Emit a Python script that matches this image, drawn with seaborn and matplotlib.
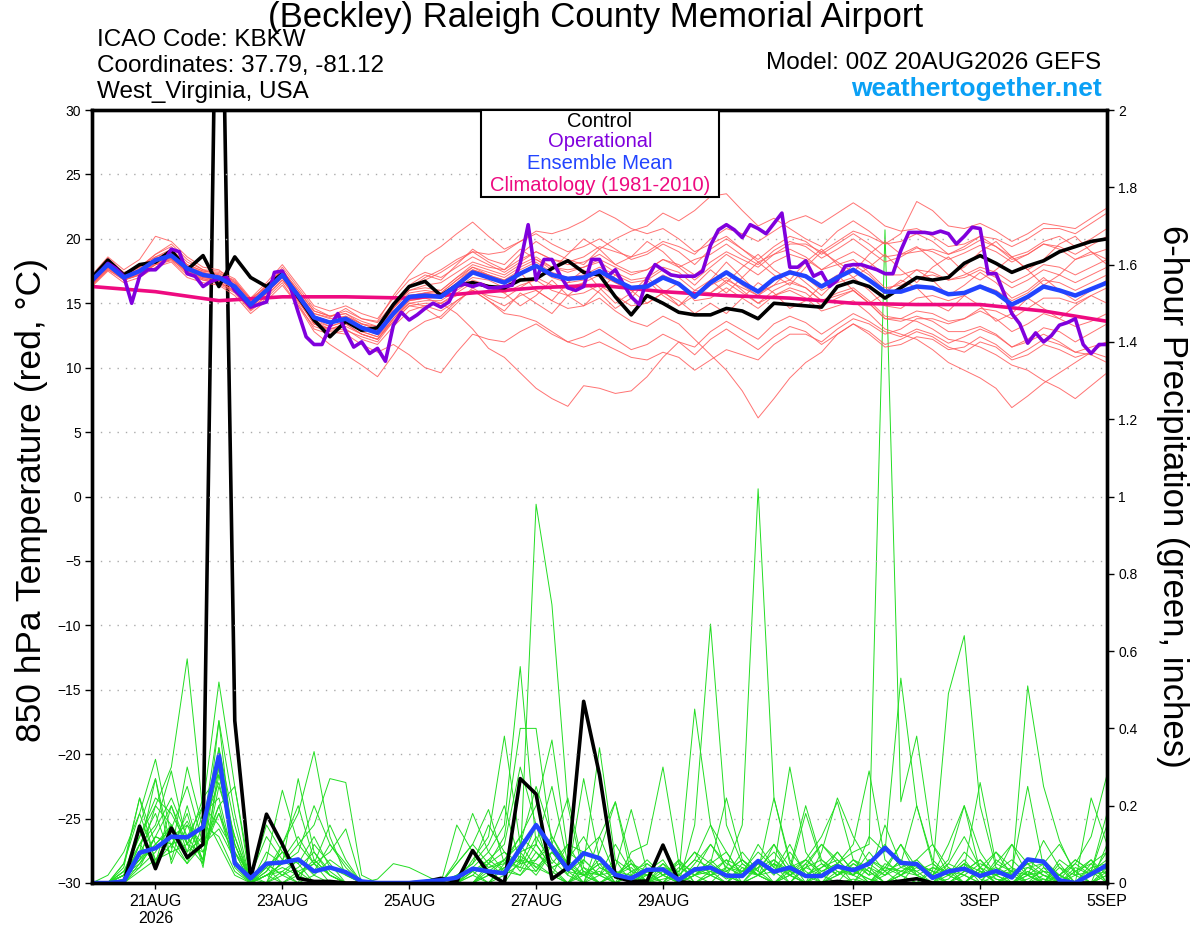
import numpy as np
import pandas as pd
import matplotlib
matplotlib.use("Agg")
import matplotlib.pyplot as plt
import seaborn as sns
from matplotlib.patches import Rectangle

# forecast hours: GEFS is 6-hourly, the operational run 3-hourly, climatology daily
hours = np.arange(0, 385, 6)
op_hours = np.arange(0, 385, 3)
clim_hours = np.arange(0, 385, 24)

tick_hours = [24, 72, 120, 168, 216, 288, 336, 384]
tick_labels = ["21AUG\n2026", "23AUG", "25AUG", "27AUG", "29AUG", "1SEP", "3SEP", "5SEP"]

# 850 hPa temperature (C)
ctrl_temp = [17.0, 18.35, 17.2, 18.0, 18.2, 19.1, 17.6, 18.7, 16.3, 18.6, 17.0, 16.3, 17.3,
             15.5, 13.7, 12.4, 13.6, 12.9, 13.1, 14.9, 16.3, 16.7, 15.6, 16.4, 16.6, 16.3,
             16.2, 16.8, 16.9, 17.7, 18.3, 17.4, 17.2, 15.5, 14.1, 15.6, 15.0, 14.3, 14.1,
             14.1, 14.6, 14.4, 13.8, 15.0, 14.9, 14.8, 14.7, 16.3, 16.7, 16.3, 15.4, 16.2,
             17.0, 16.8, 17.0, 18.1, 18.7, 18.1, 17.4, 17.9, 18.3, 19.0, 19.4, 19.8, 20.0]

mean_temp = [16.8, 18.0, 17.0, 17.5, 18.35, 18.7, 17.7, 17.2, 17.0, 16.3, 14.9, 16.0, 17.2,
             15.6, 13.9, 13.5, 13.8, 13.1, 12.7, 14.2, 15.5, 15.6, 15.5, 16.4, 17.4, 17.0,
             16.6, 17.3, 17.9, 17.2, 16.9, 17.0, 17.5, 16.8, 16.2, 16.3, 17.0, 16.5, 15.5,
             16.6, 17.4, 16.6, 15.9, 16.9, 17.4, 17.1, 16.3, 17.0, 17.6, 16.8, 15.9, 15.9,
             16.3, 16.2, 15.7, 15.8, 16.3, 15.8, 14.9, 15.5, 16.3, 16.0, 15.6, 16.1, 16.6]

oper_temp = [16.7, 17.4, 18.1, 17.7, 17.1, 15.0, 17.1, 17.6, 17.6, 18.2, 19.2, 19.0, 17.3,
             17.1, 16.3, 16.7, 16.9, 17.0, 16.0, 15.4, 14.7, 14.9, 15.1, 17.4, 17.5, 16.3,
             14.3, 12.4, 11.8, 11.8, 13.2, 14.2, 12.8, 11.6, 12.0, 11.1, 11.5, 10.5, 13.3,
             14.3, 13.7, 14.1, 14.6, 15.0, 14.7, 15.1, 16.3, 16.5, 16.3, 16.5, 16.2, 16.2,
             16.3, 16.4, 18.1, 21.1, 16.8, 18.4, 18.4, 17.2, 16.2, 16.0, 16.3, 18.4, 18.4,
             17.1, 17.6, 16.5, 15.5, 14.9, 16.9, 18.0, 17.6, 17.2, 17.1, 17.1, 17.1, 17.5,
             19.5, 20.7, 21.1, 20.7, 20.1, 21.1, 20.8, 20.4, 21.2, 22.0, 17.8, 17.8, 18.3,
             17.1, 17.4, 16.3, 16.8, 17.9, 18.0, 18.0, 17.8, 17.6, 17.3, 17.3, 19.1, 20.5,
             20.5, 20.5, 20.4, 20.6, 20.4, 19.6, 20.2, 20.9, 20.8, 17.3, 17.3, 15.8, 14.2,
             13.4, 11.9, 12.7, 12.0, 12.5, 13.3, 13.5, 13.8, 11.8, 11.1, 11.8, 11.8]

clim_temp = [16.3, 15.9, 15.2, 15.5, 15.5, 15.4, 15.8, 16.2, 16.4, 15.9, 15.6, 15.4,
             15.0, 14.9, 14.9, 14.4, 13.6]

# ensemble members, temperature
t01 = [16.5, 17.8, 17.2, 17.9, 18.6, 19.2, 18.0, 17.5, 17.3, 16.8, 15.2, 16.4, 17.6,
       15.8, 14.2, 13.9, 14.6, 13.8, 13.5, 15.0, 16.4, 17.2, 16.8, 18.0, 19.2, 18.4,
       18.0, 19.2, 18.4, 17.6, 18.8, 20.0, 19.2, 18.0, 18.6, 19.8, 19.0, 17.8, 18.4,
       18.8, 19.6, 18.7, 18.0, 19.1, 19.8, 19.4, 18.5, 19.2, 20.0, 19.1, 18.2, 18.6,
       19.3, 19.0, 18.4, 18.9, 19.5, 19.0, 18.2, 18.8, 19.6, 19.4, 18.8, 19.5, 20.2]
t02 = [16.9, 18.2, 16.8, 17.2, 18.0, 18.4, 17.5, 16.9, 16.7, 15.9, 14.5, 15.6, 16.8,
       15.2, 13.4, 12.9, 13.0, 12.2, 11.8, 13.2, 14.4, 14.8, 15.0, 14.2, 13.0, 11.5,
       10.8, 9.6, 8.4, 7.6, 7.0, 8.6, 8.4, 8.0, 8.2, 9.3, 10.8, 12.0, 11.6,
       12.8, 13.6, 12.9, 12.2, 13.4, 14.0, 13.5, 12.6, 13.4, 14.2, 13.6, 12.8, 12.4,
       13.0, 12.6, 11.9, 12.4, 13.0, 12.5, 11.6, 12.2, 13.1, 12.8, 12.0, 12.7, 13.4]
t03 = [16.4, 17.6, 16.9, 17.3, 18.1, 18.5, 17.3, 16.9, 16.6, 16.0, 14.6, 15.8, 17.0,
       15.0, 13.0, 12.6, 12.9, 12.4, 12.0, 13.6, 14.8, 14.6, 13.8, 15.0, 16.2, 15.4,
       14.8, 15.6, 16.0, 15.2, 14.6, 14.8, 15.4, 14.4, 13.6, 13.2, 14.0, 13.4, 12.2,
       11.0, 9.8, 8.2, 6.1, 7.6, 9.2, 10.4, 11.2, 12.6, 13.4, 12.8, 11.8, 12.2,
       12.8, 12.4, 11.6, 11.2, 12.0, 11.6, 10.6, 11.0, 11.8, 11.4, 10.8, 11.2, 10.8]
t04 = [17.0, 18.5, 17.4, 17.8, 18.8, 19.6, 18.4, 17.6, 17.5, 16.9, 15.4, 16.2, 17.8,
       16.2, 14.6, 14.0, 14.2, 13.4, 13.2, 14.8, 16.2, 17.0, 17.6, 18.4, 19.0, 18.2,
       17.6, 18.8, 19.8, 19.0, 18.4, 18.0, 19.2, 20.0, 20.6, 21.0, 22.0, 21.4, 22.2,
       23.3, 23.5, 22.2, 21.0, 21.6, 20.8, 20.0, 19.4, 20.6, 21.4, 20.6, 19.6, 19.8,
       20.4, 19.8, 18.8, 19.2, 19.9, 19.4, 18.6, 19.0, 19.8, 20.2, 19.4, 20.0, 20.8]
t05 = [16.6, 17.9, 16.9, 17.4, 18.2, 18.6, 17.6, 17.0, 16.8, 16.1, 14.7, 15.8, 17.0,
       15.4, 13.6, 13.0, 13.4, 12.6, 12.2, 13.8, 15.0, 15.2, 15.2, 16.0, 16.8, 16.4,
       15.8, 16.4, 16.8, 16.0, 15.6, 15.8, 16.4, 15.6, 14.8, 15.0, 15.8, 15.2, 14.2,
       15.0, 14.2, 15.4, 16.6, 15.8, 14.6, 15.2, 16.4, 17.2, 16.0, 15.0, 15.8, 16.8,
       16.2, 15.0, 14.4, 15.6, 14.8, 13.6, 14.2, 15.4, 14.6, 13.8, 14.8, 15.6, 15.0]
t06 = [17.2, 18.6, 17.6, 18.4, 20.2, 19.8, 18.6, 17.8, 17.6, 16.6, 15.4, 16.6, 18.0,
       16.4, 14.8, 14.4, 14.8, 14.2, 13.8, 15.4, 16.8, 17.4, 17.0, 17.8, 18.6, 18.0,
       17.4, 18.2, 19.0, 18.4, 18.0, 18.2, 18.8, 18.0, 17.4, 17.6, 18.4, 17.8, 16.8,
       17.8, 18.8, 18.0, 17.2, 18.2, 18.8, 18.4, 17.6, 18.4, 19.0, 18.2, 17.2, 17.2,
       17.6, 17.4, 16.8, 17.0, 17.6, 17.0, 16.2, 16.8, 17.6, 17.2, 16.6, 17.2, 17.8]
t07 = [16.7, 17.9, 16.8, 17.2, 18.0, 18.3, 17.2, 16.8, 16.5, 15.8, 14.4, 15.4, 16.6,
       14.8, 12.8, 11.8, 11.0, 10.2, 9.3, 11.0, 12.8, 13.6, 14.0, 15.2, 16.0, 15.6,
       15.4, 16.2, 17.0, 16.4, 16.2, 16.6, 17.2, 16.6, 16.0, 16.4, 17.2, 16.6, 15.6,
       16.8, 18.2, 17.0, 15.8, 16.4, 17.6, 16.6, 15.6, 16.8, 18.0, 17.2, 16.0, 16.6,
       17.6, 16.8, 15.6, 16.4, 17.4, 16.6, 15.4, 16.0, 17.0, 16.0, 15.2, 16.0, 16.8]
t08 = [16.3, 17.5, 16.6, 17.0, 17.8, 18.2, 17.0, 16.6, 16.4, 15.6, 14.2, 15.2, 16.4,
       14.8, 13.2, 12.8, 12.6, 11.8, 11.2, 11.8, 11.0, 10.0, 9.6, 11.2, 12.6, 12.2,
       12.0, 12.8, 13.4, 12.6, 12.0, 12.4, 13.0, 12.2, 11.4, 11.8, 12.6, 12.0, 11.0,
       12.2, 13.0, 12.2, 11.4, 12.4, 13.2, 12.8, 11.8, 12.6, 13.4, 12.6, 11.6, 11.8,
       12.4, 12.2, 11.4, 11.6, 12.4, 11.8, 10.8, 11.4, 12.2, 11.8, 11.2, 11.6, 12.0]
t09 = [17.1, 18.4, 17.3, 17.8, 18.8, 19.4, 18.2, 17.6, 17.2, 16.6, 15.2, 16.4, 17.6,
       16.0, 14.4, 14.0, 14.4, 13.8, 13.6, 15.6, 17.2, 18.6, 19.4, 20.4, 21.3, 20.2,
       19.2, 19.8, 20.4, 19.6, 19.0, 19.4, 20.0, 19.2, 18.4, 18.8, 19.6, 19.0, 18.0,
       19.2, 20.0, 19.2, 18.4, 19.4, 20.2, 19.8, 18.8, 19.6, 20.4, 19.6, 18.6, 18.8,
       19.4, 18.4, 17.2, 17.8, 19.0, 19.8, 18.6, 17.6, 18.4, 19.6, 20.2, 19.0, 18.4]
t10 = [16.8, 18.1, 17.1, 17.6, 18.4, 18.8, 17.8, 17.3, 17.1, 16.4, 15.0, 16.2, 17.4,
       15.6, 14.0, 13.6, 13.9, 13.2, 12.9, 14.4, 15.6, 15.8, 15.6, 16.6, 17.6, 17.2,
       16.8, 17.4, 18.0, 17.2, 16.8, 17.0, 17.6, 16.8, 16.0, 16.2, 17.0, 16.4, 15.4,
       16.4, 17.0, 16.0, 15.0, 15.6, 16.0, 15.4, 14.4, 14.8, 15.2, 14.2, 13.0, 12.6,
       12.2, 11.4, 10.4, 9.8, 9.2, 8.4, 6.9, 7.8, 8.8, 9.6, 10.4, 11.2, 12.0]
t11 = [16.5, 17.7, 17.0, 17.5, 18.3, 18.6, 17.6, 17.0, 16.9, 16.2, 14.8, 15.8, 17.0,
       15.4, 13.8, 13.2, 13.6, 12.8, 12.4, 14.0, 15.2, 15.4, 15.4, 16.2, 17.0, 16.8,
       16.2, 17.4, 16.0, 15.2, 16.6, 17.6, 16.2, 15.0, 15.8, 17.0, 16.0, 14.8, 15.6,
       15.8, 16.6, 15.8, 15.0, 16.0, 16.6, 16.2, 15.2, 15.8, 16.2, 15.2, 14.0, 13.8,
       13.6, 13.0, 12.2, 12.0, 11.6, 11.0, 10.2, 9.8, 9.0, 8.4, 7.6, 8.6, 9.6]
t12 = [16.9, 18.0, 17.2, 17.6, 18.5, 18.9, 17.9, 17.4, 17.0, 16.4, 15.0, 16.0, 17.4,
       15.8, 14.2, 13.8, 14.0, 13.4, 13.0, 14.6, 16.0, 16.4, 16.6, 17.4, 18.2, 17.8,
       17.6, 18.4, 19.0, 18.4, 18.2, 18.6, 19.4, 19.0, 18.6, 19.0, 19.8, 19.4, 18.8,
       20.0, 20.8, 20.4, 19.8, 20.6, 21.4, 21.8, 21.2, 22.0, 22.8, 22.0, 21.0, 20.6,
       20.8, 20.2, 19.4, 19.6, 20.2, 19.4, 18.4, 18.8, 19.6, 19.2, 18.4, 18.8, 19.2]
t13 = [16.6, 17.8, 16.9, 17.4, 18.2, 18.6, 17.5, 17.1, 16.8, 16.2, 14.8, 16.0, 17.2,
       15.6, 13.8, 13.4, 13.8, 13.0, 12.6, 14.2, 15.6, 15.8, 15.8, 16.8, 17.8, 17.4,
       17.0, 17.8, 18.4, 17.8, 17.4, 17.8, 18.4, 17.8, 17.2, 17.6, 18.4, 18.0, 17.2,
       18.2, 19.0, 18.4, 17.8, 18.8, 19.6, 19.6, 19.0, 19.8, 20.6, 20.2, 19.6, 20.4,
       22.9, 22.2, 21.0, 20.8, 21.2, 20.6, 19.8, 20.4, 21.2, 21.0, 20.8, 21.6, 22.4]
t14 = [16.7, 17.9, 17.0, 17.4, 18.3, 18.7, 17.7, 17.1, 16.9, 16.2, 14.8, 15.9, 17.1,
       15.4, 13.6, 13.2, 13.6, 12.8, 12.4, 13.8, 15.0, 14.8, 14.4, 15.2, 16.0, 15.2,
       14.4, 15.8, 15.0, 14.2, 15.6, 16.6, 15.8, 14.6, 15.4, 16.8, 15.6, 14.8, 16.0,
       15.8, 16.8, 16.2, 15.6, 16.8, 17.4, 17.0, 16.0, 16.6, 17.0, 16.0, 14.8, 14.6,
       15.4, 15.6, 15.2, 15.6, 16.4, 16.0, 15.2, 15.8, 16.8, 16.6, 16.0, 16.6, 17.2]
t15 = [17.0, 18.2, 17.2, 17.7, 18.5, 18.8, 17.8, 17.4, 17.2, 16.5, 15.1, 16.2, 17.4,
       15.8, 14.0, 13.6, 13.8, 13.2, 12.9, 14.6, 16.2, 16.8, 17.4, 18.2, 19.0, 18.8,
       19.0, 19.8, 20.6, 20.4, 20.8, 21.4, 22.2, 21.6, 20.8, 20.4, 20.8, 20.0, 19.0,
       19.6, 20.2, 19.2, 18.2, 18.8, 19.2, 18.6, 17.6, 18.0, 18.4, 17.4, 16.2, 16.4,
       17.0, 17.2, 16.8, 17.2, 17.8, 17.4, 16.6, 17.2, 18.0, 17.8, 17.2, 17.8, 18.4]
t16 = [16.4, 17.6, 16.8, 17.2, 18.0, 18.4, 17.4, 16.8, 16.6, 15.9, 14.5, 15.6, 16.8,
       15.2, 13.4, 13.0, 13.2, 12.6, 12.2, 13.8, 15.2, 15.4, 15.0, 15.6, 16.0, 15.2,
       14.2, 14.0, 13.6, 12.8, 12.0, 11.6, 12.0, 11.4, 10.8, 10.6, 11.2, 10.8, 9.8,
       10.6, 11.4, 11.0, 10.6, 11.8, 12.6, 12.6, 12.0, 13.0, 13.8, 13.4, 12.6, 13.0,
       13.8, 13.8, 13.4, 13.8, 14.6, 14.4, 13.8, 14.6, 15.4, 15.4, 15.0, 15.6, 16.2]
t17 = [17.0, 18.3, 17.3, 17.8, 18.6, 19.0, 18.0, 17.5, 17.4, 16.7, 15.3, 16.3, 17.5,
       16.0, 14.4, 14.0, 14.2, 13.6, 13.2, 14.8, 16.0, 16.2, 16.0, 17.0, 18.0, 17.6,
       17.2, 18.0, 18.6, 17.8, 17.6, 17.8, 18.2, 17.4, 16.8, 17.0, 17.8, 17.4, 16.4,
       17.6, 16.6, 17.8, 18.8, 17.6, 16.8, 18.2, 19.2, 18.0, 17.0, 17.8, 18.8, 17.6,
       16.6, 17.8, 18.6, 17.4, 16.8, 17.6, 18.6, 17.6, 16.4, 17.2, 18.4, 19.0, 18.0]
t18 = [16.6, 17.8, 17.1, 17.6, 18.4, 18.8, 17.8, 17.2, 17.0, 16.3, 14.9, 16.0, 17.2,
       15.6, 13.8, 13.4, 13.8, 13.0, 12.6, 14.2, 15.4, 15.8, 16.0, 17.0, 17.8, 17.2,
       16.8, 17.6, 18.2, 17.4, 17.0, 17.2, 17.8, 17.2, 16.6, 16.8, 17.6, 17.0, 16.0,
       16.8, 17.4, 16.4, 15.6, 16.4, 16.8, 16.2, 15.2, 15.6, 16.0, 15.0, 13.8, 13.6,
       14.0, 13.6, 12.8, 12.8, 13.2, 12.6, 11.6, 12.0, 12.6, 12.0, 11.2, 11.0, 10.4]
t19 = [16.8, 18.0, 17.0, 17.6, 18.4, 18.8, 17.8, 17.2, 17.0, 16.4, 15.0, 16.0, 17.2,
       15.6, 14.0, 13.6, 14.0, 13.4, 13.0, 14.6, 15.8, 16.0, 15.8, 16.8, 17.6, 17.2,
       16.6, 17.2, 17.8, 17.0, 16.6, 16.8, 17.4, 16.6, 16.0, 16.2, 17.0, 16.4, 15.6,
       16.8, 15.8, 17.0, 18.2, 17.2, 16.4, 17.8, 19.0, 18.2, 17.4, 18.8, 19.8, 18.8,
       19.0, 19.2, 18.8, 19.4, 20.2, 20.0, 19.4, 20.0, 20.8, 20.8, 20.4, 21.2, 22.0]
t20 = [16.5, 17.7, 16.8, 17.3, 18.1, 18.5, 17.5, 17.0, 16.8, 16.1, 14.7, 15.8, 17.0,
       15.2, 13.4, 13.0, 13.4, 12.6, 12.2, 13.6, 14.8, 15.0, 15.0, 15.8, 16.6, 16.2,
       15.8, 14.8, 15.6, 16.8, 15.6, 14.8, 16.0, 17.2, 16.0, 15.0, 15.8, 16.6, 15.2,
       15.4, 16.2, 15.4, 14.6, 15.6, 16.2, 15.8, 14.8, 15.4, 16.0, 15.0, 13.8, 13.8,
       14.4, 14.2, 13.6, 13.8, 14.4, 13.8, 12.8, 13.4, 14.2, 13.8, 13.2, 13.6, 14.2]

# 6-hour precipitation (inches)
ctrl_prcp = [0, 0, 0, 0.147, 0.037, 0.142, 0.066, 0.10, 2.9, 0.42, 0.012, 0.178, 0.10,
             0.012, 0.004, 0.004, 0, 0, 0, 0, 0, 0.003, 0.012, 0.004, 0.084, 0.025,
             0, 0.27, 0.23, 0.01, 0.04, 0.47, 0.28, 0.016, 0.004, 0.005, 0.098, 0.003, 0,
             0, 0, 0, 0, 0, 0, 0, 0, 0.004, 0, 0, 0, 0.005,
             0.011, 0, 0, 0, 0, 0, 0, 0, 0, 0, 0, 0, 0]

mean_prcp = [0, 0, 0.004, 0.078, 0.09, 0.12, 0.118, 0.145, 0.33, 0.051, 0.012, 0.05, 0.053,
             0.061, 0.03, 0.04, 0.028, 0.004, 0, 0, 0, 0.004, 0.007, 0.014, 0.037, 0.03,
             0.025, 0.09, 0.15, 0.092, 0.035, 0.077, 0.064, 0.021, 0.012, 0.034, 0.035, 0.008, 0.035,
             0.04, 0.019, 0.018, 0.057, 0.029, 0.04, 0.018, 0.018, 0.043, 0.033, 0.05, 0.091, 0.052,
             0.049, 0.013, 0.03, 0.037, 0.018, 0.031, 0.014, 0.061, 0.055, 0.007, 0, 0.023, 0.046]

# ensemble members, precipitation
p01 = [0, 0, 0.02, 0.12, 0.20, 0.30, 0.58, 0.18, 0.10, 0.02, 0, 0.03, 0.08,
       0.05, 0, 0, 0, 0, 0, 0, 0, 0, 0, 0.02, 0.05, 0.10,
       0.20, 0.05, 0.98, 0.72, 0.20, 0.02, 0.05, 0, 0, 0, 0.04, 0, 0.02,
       0.03, 0.02, 0, 0.05, 0.10, 0.02, 0, 0.04, 0.08, 0.03, 0.01, 0, 0,
       0.05, 0.02, 0, 0.03, 0.06, 0.01, 0, 0.02, 0.05, 0.10, 0.03, 0, 0.02]
p02 = [0, 0, 0.05, 0.22, 0.10, 0.15, 0.08, 0.20, 0.52, 0.25, 0, 0.05, 0.02,
       0, 0.10, 0.05, 0, 0, 0, 0, 0, 0, 0, 0, 0.03, 0,
       0.05, 0.12, 0.08, 0.03, 0, 0.06, 0.02, 0, 0, 0.03, 0.06, 0, 0.05,
       0.10, 0.04, 0.15, 1.02, 0.22, 0.06, 0, 0.02, 0, 0.05, 0.03, 0, 0.02,
       0, 0, 0.04, 0.02, 0, 0.06, 0.03, 0, 0.01, 0, 0, 0.05, 0.08]
p03 = [0, 0.02, 0.08, 0.18, 0.32, 0.12, 0.05, 0.10, 0.35, 0.10, 0.01, 0, 0.10,
       0.18, 0.34, 0.12, 0.02, 0, 0, 0, 0, 0, 0, 0, 0, 0.05,
       0.08, 0.03, 0.10, 0.25, 0.05, 0, 0.08, 0.21, 0.02, 0, 0.10, 0, 0.15,
       0.67, 0.15, 0.05, 0.02, 0, 0.03, 0.06, 0.02, 0, 0.01, 0, 0.04, 0.10,
       0.02, 0, 0.05, 0.12, 0.04, 0, 0, 0.03, 0.01, 0, 0.03, 0.06, 0]
p04 = [0, 0, 0, 0.10, 0.15, 0.29, 0.10, 0.22, 0.28, 0.12, 0, 0.02, 0,
       0.03, 0, 0, 0, 0, 0, 0, 0, 0, 0, 0, 0, 0.02,
       0, 0.06, 0.02, 0.08, 0.03, 0, 0.12, 0.02, 0, 0.03, 0, 0, 0.04,
       0.02, 0, 0.03, 0.05, 0, 0.02, 0, 0.03, 0.05, 0.08, 0.10, 1.69, 0.21,
       0.38, 0.10, 0.02, 0, 0.04, 0, 0.02, 0.05, 0, 0.02, 0.06, 0.03, 0]
p05 = [0, 0, 0.03, 0.08, 0.27, 0.05, 0.15, 0.06, 0.42, 0.05, 0, 0.08, 0.05,
       0.27, 0.08, 0.02, 0, 0, 0, 0, 0, 0, 0, 0, 0.04, 0.08,
       0.15, 0.56, 0.10, 0.04, 0, 0.02, 0, 0, 0.03, 0, 0.01, 0.02, 0.06,
       0.04, 0.01, 0.03, 0.02, 0.05, 0, 0.04, 0.02, 0.08, 0.03, 0.01, 0, 0.02,
       0.05, 0.03, 0.49, 0.64, 0.20, 0.04, 0, 0.01, 0.03, 0.02, 0, 0, 0.03]
p06 = [0, 0, 0, 0.05, 0.12, 0.20, 0.08, 0.12, 0.30, 0.08, 0, 0, 0.03,
       0.06, 0.02, 0, 0, 0, 0, 0, 0, 0, 0, 0.05, 0.10, 0.05,
       0.12, 0.40, 0.40, 0.10, 0.05, 0, 0.02, 0.03, 0, 0, 0.05, 0.02, 0.45,
       0.15, 0.03, 0, 0.02, 0.05, 0.03, 0, 0, 0.02, 0.04, 0, 0.03, 0.05,
       0.02, 0, 0.03, 0, 0.04, 0.08, 0.02, 0.51, 0.25, 0.11, 0.02, 0, 0.04]
p07 = [0, 0, 0.02, 0.06, 0.10, 0.08, 0.30, 0.14, 0.42, 0.18, 0, 0.02, 0.05,
       0.10, 0.15, 0.27, 0.26, 0.02, 0, 0, 0, 0, 0, 0, 0, 0,
       0.02, 0.05, 0.15, 0.02, 0, 0.04, 0.02, 0, 0.08, 0.10, 0.30, 0.05, 0,
       0.03, 0, 0.05, 0.02, 0, 0, 0.04, 0.10, 0.05, 0, 0.06, 0.03, 0,
       0, 0.04, 0.02, 0.06, 0.01, 0, 0.03, 0.02, 0, 0.05, 0, 0, 0.10]
p08 = [0, 0, 0, 0.04, 0.08, 0.15, 0.06, 0.18, 0.22, 0.05, 0, 0.06, 0.24,
       0.10, 0.05, 0.08, 0.14, 0, 0, 0, 0, 0, 0, 0.05, 0.10, 0.19,
       0.05, 0.08, 0.03, 0.10, 0.02, 0.27, 0.06, 0, 0.02, 0, 0.03, 0, 0.02,
       0.05, 0.08, 0.02, 0.10, 0.04, 0.30, 0.08, 0.02, 0.04, 0.02, 0, 0.05, 0.03,
       0.02, 0, 0.01, 0.05, 0.03, 0, 0.02, 0, 0.04, 0.02, 0, 0.22, 0.10]
p09 = [0, 0, 0.04, 0.22, 0.05, 0.10, 0.12, 0.20, 0.15, 0.08, 0.02, 0, 0,
       0.02, 0, 0, 0, 0, 0, 0, 0, 0, 0, 0, 0, 0.03,
       0.06, 0.12, 0.20, 0.37, 0.08, 0.05, 0.35, 0.06, 0, 0.02, 0.04, 0, 0.02,
       0, 0.04, 0.02, 0.06, 0.03, 0, 0.05, 0.10, 0.06, 0.02, 0.12, 0.08, 0.53,
       0.20, 0.05, 0.02, 0, 0.03, 0.01, 0, 0.04, 0.02, 0, 0.03, 0.05, 0]
p10 = [0, 0, 0.01, 0.10, 0.18, 0.06, 0.20, 0.05, 0.25, 0.12, 0.01, 0.04, 0,
       0, 0, 0, 0, 0, 0.01, 0.05, 0.04, 0.02, 0, 0, 0, 0.02,
       0.04, 0.02, 0.06, 0.10, 0.22, 0.04, 0, 0.02, 0.05, 0.03, 0, 0.02, 0,
       0.02, 0.03, 0.06, 0.02, 0, 0.04, 0.06, 0.12, 0.21, 0.06, 0.03, 0, 0.02,
       0, 0.03, 0.02, 0.05, 0, 0.02, 0.04, 0, 0.02, 0.01, 0.05, 0.12, 0.28]
p11 = [0, 0, 0.03, 0.12, 0.22, 0.18, 0.10, 0.08, 0.20, 0.25, 0.02, 0.12, 0.06,
       0.03, 0.05, 0, 0, 0, 0, 0, 0, 0, 0, 0, 0.06, 0.12,
       0.38, 0.10, 0.04, 0.02, 0, 0.03, 0, 0.02, 0.06, 0, 0.02, 0.03, 0.08,
       0.05, 0.22, 0.06, 0.03, 0.22, 0.05, 0.02, 0, 0.05, 0.10, 0.29, 0.06, 0.02,
       0.04, 0.02, 0, 0.03, 0.06, 0.02, 0, 0.03, 0, 0.02, 0, 0.04, 0.05]
p12 = [0, 0, 0.02, 0.15, 0.27, 0.09, 0.18, 0.04, 0.30, 0.06, 0, 0, 0.02,
       0.04, 0.08, 0.03, 0, 0, 0, 0, 0, 0, 0, 0.02, 0.03, 0.05,
       0.02, 0.07, 0.04, 0.08, 0.03, 0.02, 0.05, 0.04, 0.19, 0.03, 0, 0.04, 0.02,
       0.06, 0.02, 0, 0.04, 0.08, 0.03, 0.18, 0.05, 0.02, 0.04, 0, 0.02, 0.06,
       0.03, 0, 0.02, 0.04, 0.26, 0.05, 0.03, 0.25, 0.04, 0, 0.02, 0.03, 0.06]
p13 = [0, 0, 0, 0.08, 0.14, 0.22, 0.12, 0.06, 0.35, 0.15, 0, 0.03, 0.10,
       0.20, 0.06, 0.02, 0, 0, 0, 0, 0, 0, 0, 0, 0.02, 0.06,
       0.10, 0.30, 0.15, 0.06, 0.02, 0, 0.04, 0.02, 0, 0.05, 0.02, 0, 0.03,
       0.02, 0.06, 0.04, 0.02, 0.05, 0.02, 0, 0.08, 0.22, 0.12, 0.05, 0.02, 0.04,
       0.06, 0.02, 0.10, 0.20, 0.08, 0.02, 0, 0.02, 0.03, 0, 0, 0.02, 0.03]
p14 = [0, 0, 0.02, 0.05, 0.10, 0.14, 0.25, 0.10, 0.18, 0.05, 0, 0.02, 0.03,
       0, 0.02, 0.06, 0.03, 0, 0, 0, 0, 0, 0, 0, 0, 0.04,
       0.05, 0.04, 0.12, 0.05, 0.10, 0.08, 0.12, 0.21, 0.05, 0, 0.02, 0.05, 0.03,
       0.10, 0.05, 0.03, 0.06, 0.02, 0.08, 0.03, 0, 0.02, 0.06, 0.02, 0.15, 0.05,
       0.20, 0.06, 0.02, 0.05, 0.02, 0.08, 0.04, 0.02, 0.11, 0.04, 0, 0.02, 0.05]
p15 = [0, 0, 0.05, 0.18, 0.06, 0.12, 0.15, 0.10, 0.20, 0.04, 0, 0, 0.06,
       0.12, 0.05, 0.02, 0, 0, 0, 0, 0, 0, 0, 0.06, 0.18, 0.08,
       0.03, 0.02, 0.08, 0.04, 0.06, 0.02, 0, 0.03, 0.02, 0.02, 0.05, 0, 0.04,
       0.03, 0.06, 0, 0.02, 0.10, 0.04, 0.20, 0.06, 0.03, 0, 0.04, 0.02, 0.06,
       0.02, 0.04, 0.03, 0.02, 0, 0.05, 0.10, 0.02, 0, 0.06, 0.03, 0, 0.02]
p16 = [0, 0, 0.02, 0.06, 0.12, 0.10, 0.05, 0.15, 0.26, 0.10, 0, 0.04, 0.08,
       0.05, 0.12, 0.04, 0.02, 0, 0, 0, 0, 0, 0, 0.15, 0.08, 0.04,
       0.06, 0.10, 0.25, 0.12, 0.05, 0.02, 0.06, 0.02, 0.04, 0, 0.10, 0.02, 0.06,
       0.15, 0.08, 0.02, 0.04, 0.06, 0.02, 0.05, 0, 0.03, 0.02, 0.06, 0.04, 0.03,
       0.05, 0.02, 0.06, 0.20, 0.03, 0, 0.02, 0.05, 0.06, 0.02, 0, 0.03, 0.15]
p17 = [0, 0, 0, 0.03, 0.06, 0.08, 0.10, 0.05, 0.28, 0.10, 0, 0.02, 0.05,
       0.08, 0.20, 0.10, 0.04, 0, 0, 0, 0, 0, 0, 0, 0.02, 0,
       0.04, 0.06, 0.05, 0.02, 0.10, 0.03, 0.02, 0.06, 0.03, 0.02, 0, 0.06, 0,
       0.02, 0, 0.04, 0.02, 0.03, 0.10, 0.02, 0.05, 0.02, 0.06, 0.04, 0, 0.03,
       0.05, 0.03, 0, 0.02, 0.05, 0.03, 0.06, 0.02, 0, 0.04, 0.02, 0.06, 0.02]
p18 = [0, 0, 0.01, 0.06, 0.20, 0.15, 0.06, 0.10, 0.14, 0.06, 0.01, 0.15, 0.08,
       0.02, 0.05, 0.15, 0.06, 0, 0, 0, 0, 0, 0, 0.02, 0.05, 0.15,
       0.08, 0.05, 0.06, 0.12, 0.04, 0.02, 0.03, 0, 0.02, 0.06, 0.02, 0, 0.02,
       0.05, 0.02, 0.08, 0.03, 0, 0.02, 0.04, 0.06, 0.02, 0.05, 0.02, 0.04, 0.02,
       0.06, 0.10, 0.04, 0, 0.03, 0.02, 0.10, 0.05, 0.02, 0, 0.04, 0.02, 0.08]
p19 = [0, 0, 0.03, 0.10, 0.05, 0.20, 0.10, 0.15, 0.12, 0.03, 0, 0.02, 0.04,
       0.02, 0.06, 0.02, 0, 0, 0, 0, 0, 0, 0, 0, 0.03, 0.06,
       0.03, 0.08, 0.10, 0.04, 0.06, 0.12, 0.04, 0.02, 0.05, 0.02, 0.04, 0.03, 0.08,
       0.02, 0.04, 0.03, 0.08, 0.04, 0.02, 0.06, 0.03, 0.05, 0.02, 0.08, 0.03, 0.10,
       0.04, 0.02, 0.05, 0.03, 0.02, 0.04, 0.02, 0.06, 0.03, 0.02, 0.05, 0.02, 0.04]
p20 = [0, 0, 0.02, 0.04, 0.12, 0.10, 0.16, 0.08, 0.18, 0.08, 0, 0.05, 0.02,
       0.06, 0.03, 0.10, 0.05, 0, 0, 0, 0, 0, 0, 0, 0.08, 0.02,
       0.06, 0.04, 0.03, 0.08, 0.03, 0.06, 0.02, 0.10, 0.03, 0.05, 0.02, 0.06, 0.02,
       0.04, 0.03, 0.06, 0.02, 0.06, 0.03, 0.02, 0.04, 0.06, 0.02, 0.05, 0.10, 0.04,
       0.03, 0.05, 0.02, 0.08, 0.04, 0.02, 0.03, 0.04, 0.05, 0.02, 0.06, 0.03, 0.18]

temp_members = [t01, t02, t03, t04, t05, t06, t07, t08, t09, t10,
                t11, t12, t13, t14, t15, t16, t17, t18, t19, t20]
prcp_members = [p01, p02, p03, p04, p05, p06, p07, p08, p09, p10,
                p11, p12, p13, p14, p15, p16, p17, p18, p19, p20]

temp_df = pd.DataFrame({
    "hour": np.tile(hours, len(temp_members)),
    "member": np.repeat(np.arange(len(temp_members)), len(hours)),
    "temp": np.concatenate(temp_members),
})
prcp_df = pd.DataFrame({
    "hour": np.tile(hours, len(prcp_members)),
    "member": np.repeat(np.arange(len(prcp_members)), len(hours)),
    "prcp": np.concatenate(prcp_members),
})

RED = "#ff5a5a"
GREEN = "#22dd22"
PURPLE = "#8000dd"
BLUE = "#2244ff"
PINK = "#ee0a80"

sns.set_theme(style="ticks")
plt.rcParams["font.family"] = ["Liberation Sans", "DejaVu Sans"]
plt.rcParams.update({"text.color": "black", "axes.labelcolor": "black",
                     "xtick.color": "black", "ytick.color": "black"})

fig = plt.figure(figsize=(12, 9.27), dpi=100)
ax = fig.add_axes([0.0767, 0.0475, 0.8458, 0.8338])
ax2 = ax.twinx()

# precipitation on the right axis (drawn underneath the temperatures)
sns.lineplot(data=prcp_df, x="hour", y="prcp", units="member", estimator=None,
             color=GREEN, lw=0.7, ax=ax2, legend=False)
sns.lineplot(x=hours, y=ctrl_prcp, color="black", lw=2.6, ax=ax2)
sns.lineplot(x=hours, y=mean_prcp, color=BLUE, lw=3.2, ax=ax2)

# temperature on the left axis
sns.lineplot(data=temp_df, x="hour", y="temp", units="member", estimator=None,
             color=RED, lw=0.7, alpha=0.85, ax=ax, legend=False)
sns.lineplot(x=clim_hours, y=clim_temp, color=PINK, lw=2.6, ax=ax)
sns.lineplot(x=hours, y=ctrl_temp, color="black", lw=2.6, ax=ax)
sns.lineplot(x=op_hours, y=oper_temp, color=PURPLE, lw=2.6, ax=ax)
sns.lineplot(x=hours, y=mean_temp, color=BLUE, lw=3.2, ax=ax)

ax.set_zorder(ax2.get_zorder() + 1)
ax.patch.set_visible(False)

ax.set_xlim(0, 384)
ax.set_ylim(-30, 30)
ax2.set_ylim(0, 2)
ax.set_xlabel("")
ax.set_ylabel("")
ax2.set_ylabel("")

ax.set_yticks(np.arange(-30, 31, 5))
ax.set_xticks(tick_hours, tick_labels)
ptick = np.arange(0, 2.01, 0.2)
ax2.set_yticks(ptick, [f"{v:g}" for v in np.round(ptick, 1)])

ax.tick_params(axis="y", length=5, width=1, labelsize=10, pad=3)
ax.tick_params(axis="x", length=4, width=1, labelsize=11.5, pad=4)
ax2.tick_params(axis="y", length=5, width=1, labelsize=10, pad=3)

for a in (ax, ax2):
    for s in a.spines.values():
        s.set_linewidth(2.4)
        s.set_color("black")

for yv in range(-25, 30, 5):
    ax.axhline(yv, color="#aaaaaa", lw=1, ls=(0, (1, 5)), zorder=0)

# header texts
fig.text(0.496, 0.981, "(Beckley) Raleigh County Memorial Airport",
         ha="center", va="center", fontsize=25)
fig.text(0.081, 0.957, "ICAO Code: KBKW", ha="left", va="center", fontsize=17.5)
fig.text(0.081, 0.929, "Coordinates: 37.79, -81.12", ha="left", va="center", fontsize=17.5)
fig.text(0.081, 0.901, "West_Virginia, USA", ha="left", va="center", fontsize=17.5)
fig.text(0.918, 0.932, "Model: 00Z 20AUG2026 GEFS", ha="right", va="center", fontsize=17.5)
fig.text(0.918, 0.904, "weathertogether.net", ha="right", va="center",
         fontsize=19, fontweight="bold", color="#0aa0f5")

# axis titles
fig.text(0.026, 0.461, "850 hPa Temperature (red, °C)", rotation=90,
         ha="center", va="center", fontsize=25.5)
fig.text(0.977, 0.465, "6-hour Precipitation (green, inches)", rotation=-90,
         ha="center", va="center", fontsize=25)

# legend box
fig.add_artist(Rectangle((0.4008, 0.7875), 0.198, 0.0939, transform=fig.transFigure,
                         facecolor="white", edgecolor="black", lw=1.5, zorder=5))
for yy, txt, col in [(0.869, "Control", "black"),
                     (0.847, "Operational", PURPLE),
                     (0.824, "Ensemble Mean", BLUE),
                     (0.800, "Climatology (1981-2010)", PINK)]:
    fig.text(0.5, yy, txt, ha="center", va="center", fontsize=14.5, color=col, zorder=6)

fig.savefig("out.png", dpi=100)
